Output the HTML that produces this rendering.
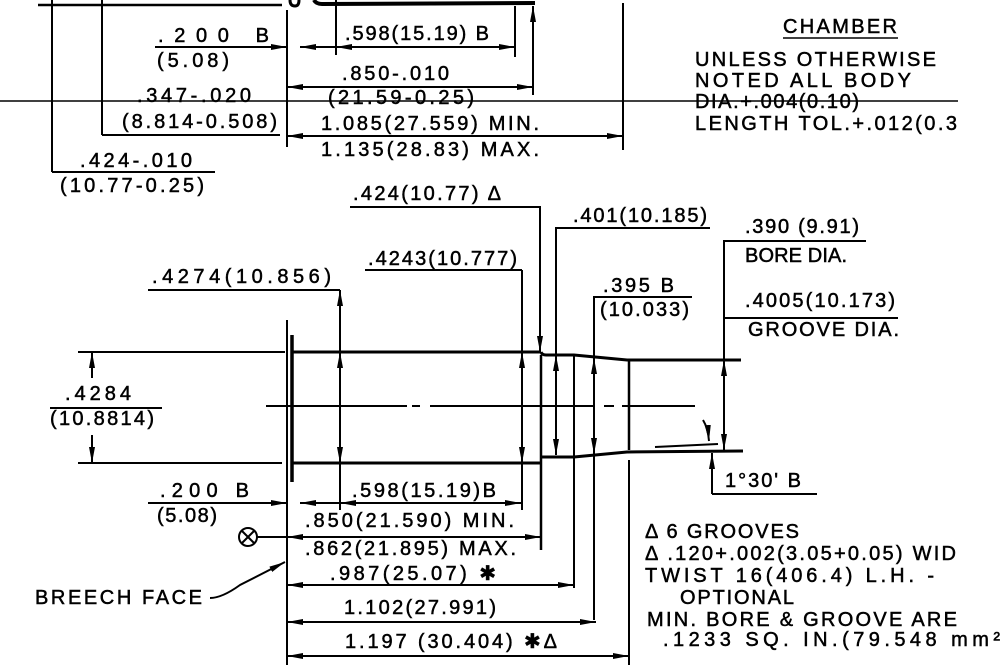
<!DOCTYPE html>
<html><head><meta charset="utf-8"><style>
html,body{margin:0;padding:0;background:#fff;width:1001px;height:665px;overflow:hidden}
svg{display:block}
text{font-family:"Liberation Sans","DejaVu Sans",sans-serif;font-size:20px;fill:#000;stroke:#000;stroke-width:0.5;letter-spacing:1px}
</style></head><body>
<svg width="1001" height="665" viewBox="0 0 1001 665" xmlns="http://www.w3.org/2000/svg">
<defs>
<marker id="a" viewBox="0 0 16 6" refX="16" refY="3" markerWidth="16" markerHeight="6" markerUnits="userSpaceOnUse" orient="auto-start-reverse"><path d="M0,0 L16,3 L0,6 Z" fill="#000"/></marker>
</defs>
<g stroke="#000" stroke-width="2" fill="none">
<line x1="38" y1="5" x2="282" y2="5" stroke-width="2.5"/>
<path d="M290,0 Q290,6 295,6 Q299,6 299,0" stroke-width="3"/>
<path d="M314,0 Q316,4 322,4 L535,3" stroke-width="4"/>
<line x1="52" y1="0" x2="52" y2="172"/>
<line x1="52" y1="172" x2="215" y2="172"/>
<line x1="102" y1="0" x2="102" y2="135"/>
<line x1="102" y1="135" x2="280" y2="135"/>
<line x1="287" y1="10" x2="287" y2="147"/>
<line x1="336" y1="0" x2="336" y2="55"/>
<line x1="515" y1="6" x2="515" y2="57"/>
<line x1="623" y1="3" x2="623" y2="150"/>
<line x1="533" y1="95" x2="533" y2="6" marker-end="url(#a)"/>
<line x1="155" y1="47" x2="287" y2="47"/>
<line x1="250" y1="47" x2="287" y2="47" marker-end="url(#a)"/>
<line x1="336" y1="47" x2="300" y2="47" marker-end="url(#a)"/>
<line x1="336" y1="47" x2="515" y2="47" marker-start="url(#a)" marker-end="url(#a)"/>
<line x1="287" y1="87" x2="533" y2="87" marker-start="url(#a)" marker-end="url(#a)"/>
<line x1="287" y1="136" x2="623" y2="136" marker-start="url(#a)" marker-end="url(#a)"/>
<line x1="0" y1="101" x2="958" y2="101" stroke-width="1.5"/>
<line x1="783" y1="38" x2="898" y2="38" stroke-width="1.5"/>
<polyline points="350,207 540,207 540,352"/>
<line x1="540" y1="320" x2="540" y2="352" marker-end="url(#a)"/>
<polyline points="710,228 556,228 556,455"/>
<line x1="556" y1="380" x2="556" y2="355" marker-end="url(#a)"/>
<line x1="556" y1="430" x2="556" y2="455" marker-end="url(#a)"/>
<line x1="365" y1="270" x2="522" y2="270"/>
<line x1="522" y1="270" x2="522" y2="510"/>
<line x1="522" y1="400" x2="522" y2="352" marker-end="url(#a)"/>
<line x1="522" y1="420" x2="522" y2="463" marker-end="url(#a)"/>
<line x1="148" y1="290" x2="340" y2="290"/>
<line x1="340" y1="290" x2="340" y2="463" marker-start="url(#a)"/>
<line x1="340" y1="400" x2="340" y2="352" marker-end="url(#a)"/>
<line x1="340" y1="420" x2="340" y2="463" marker-end="url(#a)"/>
<line x1="340" y1="463" x2="340" y2="510"/>
<polyline points="692,297 594,297 594,620"/>
<line x1="594" y1="400" x2="594" y2="358" marker-end="url(#a)"/>
<line x1="594" y1="420" x2="594" y2="454" marker-end="url(#a)"/>
<polyline points="866,241 724,241 724,450"/>
<line x1="724" y1="318" x2="898" y2="318"/>
<line x1="724" y1="400" x2="724" y2="360" marker-end="url(#a)"/>
<line x1="724" y1="410" x2="724" y2="450" marker-end="url(#a)"/>
<line x1="78" y1="352" x2="285" y2="352"/>
<line x1="78" y1="463" x2="282" y2="463"/>
<line x1="292" y1="352" x2="541" y2="352" stroke-width="3"/>
<path d="M541,352 Q542,355 546,355 L574,355 L627,360 L741,360" stroke-width="3"/>
<line x1="292" y1="463" x2="541" y2="463" stroke-width="3"/>
<path d="M541,457 L574,457 L627,452 L743,451" stroke-width="3"/>
<line x1="541" y1="355" x2="541" y2="550" stroke-width="2.5"/>
<line x1="574" y1="355" x2="574" y2="588"/>
<line x1="629" y1="360" x2="629" y2="450" stroke-width="2.5"/>
<line x1="629" y1="460" x2="629" y2="665"/>
<line x1="292" y1="335" x2="292" y2="482" stroke-width="3.5"/>
<line x1="287" y1="320" x2="287" y2="665"/>
<path d="M266,406 H407 M412,406 H420 M430,406 H595 M604,406 H614 M622,406 H695" stroke-width="2"/>
<line x1="92" y1="378" x2="92" y2="352" marker-end="url(#a)"/>
<line x1="92" y1="435" x2="92" y2="463" marker-end="url(#a)"/>
<line x1="50" y1="408" x2="162" y2="408"/>
<line x1="655" y1="447" x2="718" y2="444"/>
<path d="M703,420 Q708,428 709,441" marker-end="url(#a)"/>
<line x1="712" y1="494" x2="712" y2="453" marker-end="url(#a)"/>
<line x1="712" y1="494" x2="817" y2="494"/>
<line x1="148" y1="503" x2="287" y2="503"/>
<line x1="250" y1="503" x2="287" y2="503" marker-end="url(#a)"/>
<line x1="340" y1="503" x2="300" y2="503" marker-end="url(#a)"/>
<line x1="340" y1="503" x2="521" y2="503" marker-start="url(#a)" marker-end="url(#a)"/>
<circle cx="248" cy="537" r="9"/>
<line x1="242" y1="531" x2="254" y2="543"/><line x1="254" y1="531" x2="242" y2="543"/>
<line x1="257" y1="537" x2="287" y2="537"/>
<line x1="287" y1="537" x2="541" y2="537" marker-start="url(#a)" marker-end="url(#a)"/>
<line x1="287" y1="585" x2="574" y2="585" marker-start="url(#a)" marker-end="url(#a)"/>
<line x1="287" y1="622" x2="596" y2="622" marker-start="url(#a)" marker-end="url(#a)"/>
<line x1="287" y1="656" x2="629" y2="656" marker-start="url(#a)" marker-end="url(#a)"/>
<path d="M210,598 Q222,598 240,585 L285,562" marker-end="url(#a)"/>
</g>
<g>
<text x="158" y="42" textLength="112">.200 B</text>
<text x="157" y="67" textLength="73">(5.08)</text>
<text x="345" y="40" textLength="145">.598(15.19) B</text>
<text x="342" y="80" textLength="108">.850-.010</text>
<text x="328" y="104" textLength="147">(21.59-0.25)</text>
<text x="137" y="102" textLength="115">.347-.020</text>
<text x="122" y="128" textLength="156">(8.814-0.508)</text>
<text x="321" y="130" textLength="219">1.085(27.559) MIN.</text>
<text x="321" y="156" textLength="219">1.135(28.83) MAX.</text>
<text x="80" y="167" textLength="113">.424-.010</text>
<text x="60" y="192" textLength="145">(10.77-0.25)</text>
<text x="783" y="33" textLength="115">CHAMBER</text>
<text x="695" y="66" textLength="242">UNLESS OTHERWISE</text>
<text x="695" y="87" textLength="217">NOTED ALL BODY</text>
<text x="695" y="108" textLength="165">DIA.+.004(0.10)</text>
<text x="695" y="130" textLength="263">LENGTH TOL.+.012(0.3</text>
<text x="353" y="200" textLength="149">.424(10.77) Δ</text>
<text x="573" y="222" textLength="135">.401(10.185)</text>
<text x="745" y="233" textLength="115">.390 (9.91)</text>
<text x="745" y="262" textLength="103">BORE DIA.</text>
<text x="368" y="265" textLength="150">.4243(10.777)</text>
<text x="152" y="283" textLength="180">.4274(10.856)</text>
<text x="603" y="292" textLength="72">.395 B</text>
<text x="600" y="316" textLength="90">(10.033)</text>
<text x="745" y="307" textLength="151">.4005(10.173)</text>
<text x="748" y="336" textLength="152">GROOVE DIA.</text>
<text x="65" y="400" textLength="67">.4284</text>
<text x="50" y="425" textLength="105">(10.8814)</text>
<text x="725" y="487" textLength="77">1°30' B</text>
<text x="160" y="497" textLength="90">.200 B</text>
<text x="157" y="522" textLength="61">(5.08)</text>
<text x="352" y="497" textLength="145">.598(15.19)B</text>
<text x="305" y="527" textLength="210">.850(21.590) MIN.</text>
<text x="305" y="555" textLength="212">.862(21.895) MAX.</text>
<text x="330" y="580" textLength="167">.987(25.07) ✱</text>
<text x="35" y="604" textLength="168">BREECH FACE</text>
<text x="344" y="614" textLength="153">1.102(27.991)</text>
<text x="345" y="648" textLength="213">1.197 (30.404) ✱Δ</text>
<text x="645" y="538" textLength="155">Δ 6 GROOVES</text>
<text x="645" y="560" textLength="312">Δ .120+.002(3.05+0.05) WID</text>
<text x="645" y="582" textLength="290">TWIST 16(406.4) L.H. -</text>
<text x="680" y="604" textLength="115">OPTIONAL</text>
<text x="647" y="626" textLength="311">MIN. BORE &amp; GROOVE ARE</text>
<text x="663" y="646" textLength="338">.1233 SQ. IN.(79.548 mm²</text>
</g>
</svg>
</body></html>
